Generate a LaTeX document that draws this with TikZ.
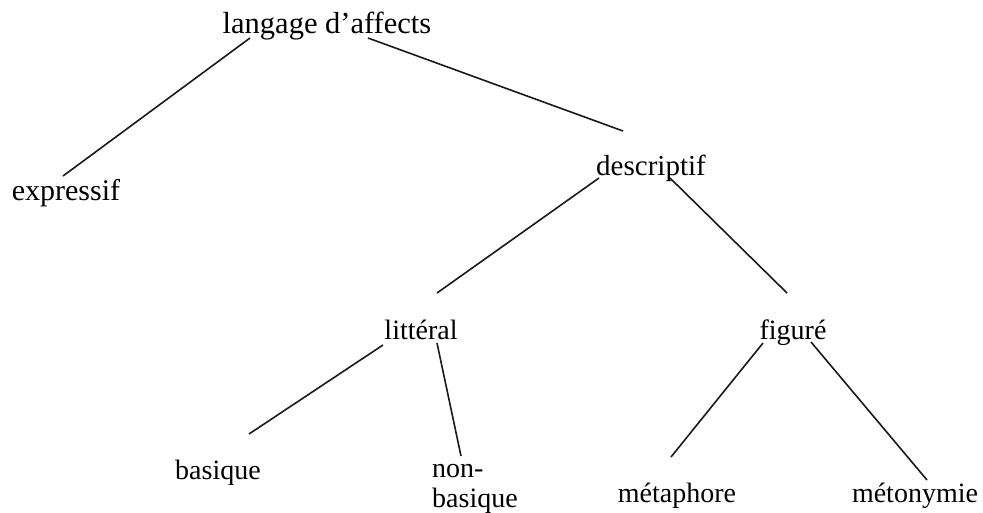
\documentclass[tikz,border=0pt]{standalone}
\usepackage{fontspec}
\setmainfont{Liberation Serif}
\begin{document}
\begin{tikzpicture}[x=1pt,y=1pt,
  lbl/.style={inner sep=0pt, anchor=base, font=\fontsize{28}{30}\selectfont},
  edge/.style={line width=1.6pt, black!90}]
\useasboundingbox (0,0) rectangle (983,-512);
\node[lbl, font=\fontsize{30.5}{32}\selectfont] (root) at (327,-33) {langage d’affects};
\node[lbl, font=\fontsize{30}{32}\selectfont] (expr) at (66,-200) {expressif};
\node[lbl, font=\fontsize{29}{31}\selectfont] (desc) at (651,-175) {descriptif};
\node[lbl] (litt) at (421,-339) {littéral};
\node[lbl] (fig) at (793,-339) {figuré};
\node[lbl] (bas) at (218,-479) {basique};
\node[lbl, anchor=base west, align=left] (nonbas) at (432,-507) {non-\\basique};
\node[lbl] (meta) at (677,-502) {métaphore};
\node[lbl] (meto) at (915,-502) {métonymie};

\draw[edge] ([shift={(-77,-5)}]root.base) -- ([shift={(-3,24)}]expr.base);
\draw[edge] ([shift={(41,-5)}]root.base) -- ([shift={(-28,44)}]desc.base);
\draw[edge] ([shift={(-52,-3)}]desc.base) -- ([shift={(16,46)}]litt.base);
\draw[edge] ([shift={(19,-3)}]desc.base) -- ([shift={(-6,46)}]fig.base);
\draw[edge] ([shift={(-38,-6)}]litt.base) -- ([shift={(31,45)}]bas.base);
\draw[edge] ([shift={(16,-4)}]litt.base) -- ([shift={(29,51)}]nonbas.base west);
\draw[edge] ([shift={(-30,-4)}]fig.base) -- ([shift={(-6,45)}]meta.base);
\draw[edge] ([shift={(18,-3)}]fig.base) -- ([shift={(12,22)}]meto.base);
\end{tikzpicture}
\end{document}
